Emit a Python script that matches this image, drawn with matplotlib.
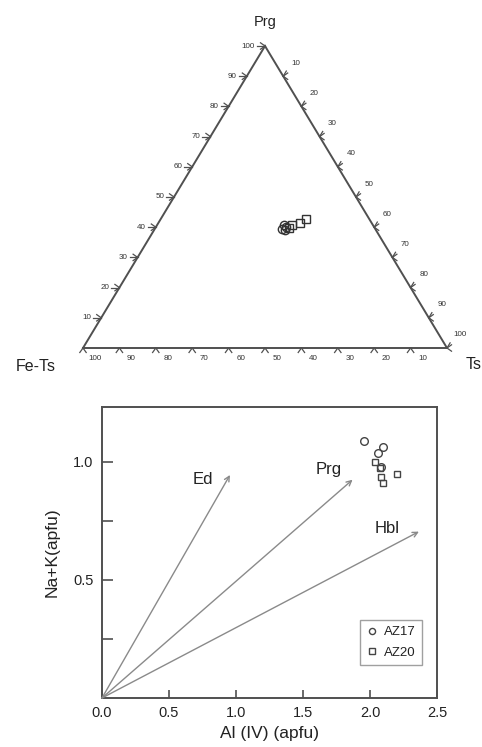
import numpy as np
import matplotlib
matplotlib.use('Agg')
import matplotlib.pyplot as plt

plt.rcParams['font.family'] = ['Liberation Sans', 'DejaVu Sans']

# ternary data: Prg, Ts (Fe-Ts = 100 - Prg - Ts)
az17_prg = [40.7, 39.5, 40.0, 39.0]
az17_ts = [35.0, 34.8, 35.8, 36.0]
az20_prg = [40.7, 41.4, 42.7, 39.8]
az20_ts = [37.0, 38.9, 40.0, 36.8]

# lower diagram: Al(IV) vs Na+K
az17_al = [1.955, 2.10, 2.06, 2.08]
az17_nak = [1.088, 1.063, 1.04, 0.98]
az20_al = [2.04, 2.075, 2.085, 2.10, 2.20]
az20_nak = [1.00, 0.975, 0.935, 0.91, 0.95]

vectors = ['Ed', 'Prg', 'Hbl']
vec_al = [0.955, 1.87, 2.365]
vec_nak = [0.945, 0.925, 0.705]
vec_label_pos = [(0.75, 0.925), (1.69, 0.97), (2.13, 0.72)]

tern_ticks = [10, 20, 30, 40, 50, 60, 70, 80, 90, 100]

LINE = '#505050'
TXT = '#222222'
W, H = 364.0, 302.0   # triangle size in pixels


def tern_xy(prg, ts):
    prg = np.asarray(prg) / 100.0
    ts = np.asarray(ts) / 100.0
    return ts + prg / 2, prg


def px(dx, dy):
    return dx / W, dy / H


fig = plt.figure(figsize=(4.82, 7.47), dpi=100)

# ---- ternary ----
ax = fig.add_axes([83 / 482, 399 / 747, 364 / 482, 302 / 747])
ax.set_xlim(0, 1)
ax.set_ylim(0, 1)
ax.axis('off')
ax.plot([0, 1, 0.5, 0], [0, 0, 1, 0], color=LINE, lw=1.4, clip_on=False,
        solid_joinstyle='miter')


def chevron(x, y, ox, oy, line=None):
    # tip at edge, arms pointing outward (ox, oy in pixel units, unit vector)
    nx, ny = -oy, ox
    for s in (1, -1):
        dx, dy = px(4.5 * ox + 3.2 * s * nx, 4.5 * oy + 3.2 * s * ny)
        ax.plot([x, x + dx], [y, y + dy], color=LINE, lw=0.9, clip_on=False)
    if line is not None:
        lx, ly, ln = line
        dx, dy = px(lx * ln, ly * ln)
        ax.plot([x, x + dx], [y, y + dy], color=LINE, lw=0.9, clip_on=False)


up_right = np.array([182.0, 302.0]) / np.hypot(182, 302)

for t in tern_ticks:
    # left side: Prg
    x, y = tern_xy(t, 0)
    chevron(x, y, -1, 0, line=(-1, 0, 8))
    dx, dy = px(-10, 0)
    ax.text(x + dx, y + dy, str(t), fontsize=5.8, color='#333333',
            ha='right', va='center')
    # right side: Ts
    x, y = tern_xy(100 - t, t)
    chevron(x, y, 1, 0, line=(up_right[0], up_right[1], 6))
    dx, dy = px(13, 13)
    ax.text(x + dx, y + dy, str(t), fontsize=5.8, color='#333333',
            ha='center', va='center')
    # bottom: Fe-Ts
    x, y = tern_xy(0, 100 - t)
    chevron(x, y, 0, -1)
    dx, dy = px(12, -10)
    ax.text(x + dx, y + dy, str(t), fontsize=5.8, color='#333333',
            ha='center', va='center')

x1, y1 = tern_xy(az17_prg, az17_ts)
x2, y2 = tern_xy(az20_prg, az20_ts)
ax.plot(x1, y1, 'o', ms=6, mfc='none', mec='#333333', mew=1.0, clip_on=False)
ax.plot(x2, y2, 's', ms=5.5, mfc='none', mec='#333333', mew=1.0, clip_on=False)

ax.text(0.5, 1.079, 'Prg', fontsize=10.5, color=TXT, ha='center', va='center')
ax.text(-0.129, -0.06, 'Fe-Ts', fontsize=11.5, color=TXT, ha='center', va='center')
ax.text(1.074, -0.056, 'Ts', fontsize=11.5, color=TXT, ha='center', va='center')

# ---- Al(IV) vs Na+K ----
bx = fig.add_axes([102 / 482, 49 / 747, 335 / 482, 291 / 747])
bx.set_xlim(0, 2.5)
bx.set_ylim(0, 1.233)
for s in bx.spines.values():
    s.set_color(LINE)
    s.set_linewidth(1.4)
bx.set_xticks([0, 0.5, 1.0, 1.5, 2.0, 2.5])
bx.set_xticklabels(['0.0', '0.5', '1.0', '1.5', '2.0', '2.5'])
bx.set_yticks([0.5, 1.0])
bx.set_yticklabels(['0.5', '1.0'])
bx.set_yticks([0.25, 0.75], minor=True)
bx.tick_params(axis='x', direction='in', length=6, width=1.2, color=LINE,
               labelsize=10.5, labelcolor=TXT, pad=6)
bx.tick_params(axis='y', which='both', direction='in', length=8, width=1.2,
               color=LINE, labelsize=10.5, labelcolor=TXT, pad=6)

for name, xe, ye, (lx, ly) in zip(vectors, vec_al, vec_nak, vec_label_pos):
    bx.annotate('', xy=(xe, ye), xytext=(0, 0),
                arrowprops=dict(arrowstyle='->', color='#8a8a8a', lw=1.0,
                                shrinkA=0, shrinkB=0, mutation_scale=9))
    bx.text(lx, ly, name, fontsize=12, color=TXT, ha='center', va='center')

bx.plot(az17_al, az17_nak, 'o', ms=5.5, mfc='none', mec='#444444', mew=1.0,
        label='AZ17')
bx.plot(az20_al, az20_nak, 's', ms=5, mfc='none', mec='#444444', mew=1.0,
        label='AZ20')

leg = bx.legend(loc='lower right', bbox_to_anchor=(0.975, 0.09), fontsize=9.5,
                frameon=True, fancybox=False, edgecolor='#888888',
                handlelength=0.8, handletextpad=0.5, borderpad=0.5,
                labelspacing=0.6, markerscale=0.8)
leg.get_frame().set_linewidth(1.0)
for t in leg.get_texts():
    t.set_color(TXT)

bx.set_xlabel('Al (IV) (apfu)', fontsize=12.5, color=TXT, labelpad=4)
bx.set_ylabel('Na+K(apfu)', fontsize=12.5, color=TXT, labelpad=10)

fig.savefig('out.png', dpi=100)
